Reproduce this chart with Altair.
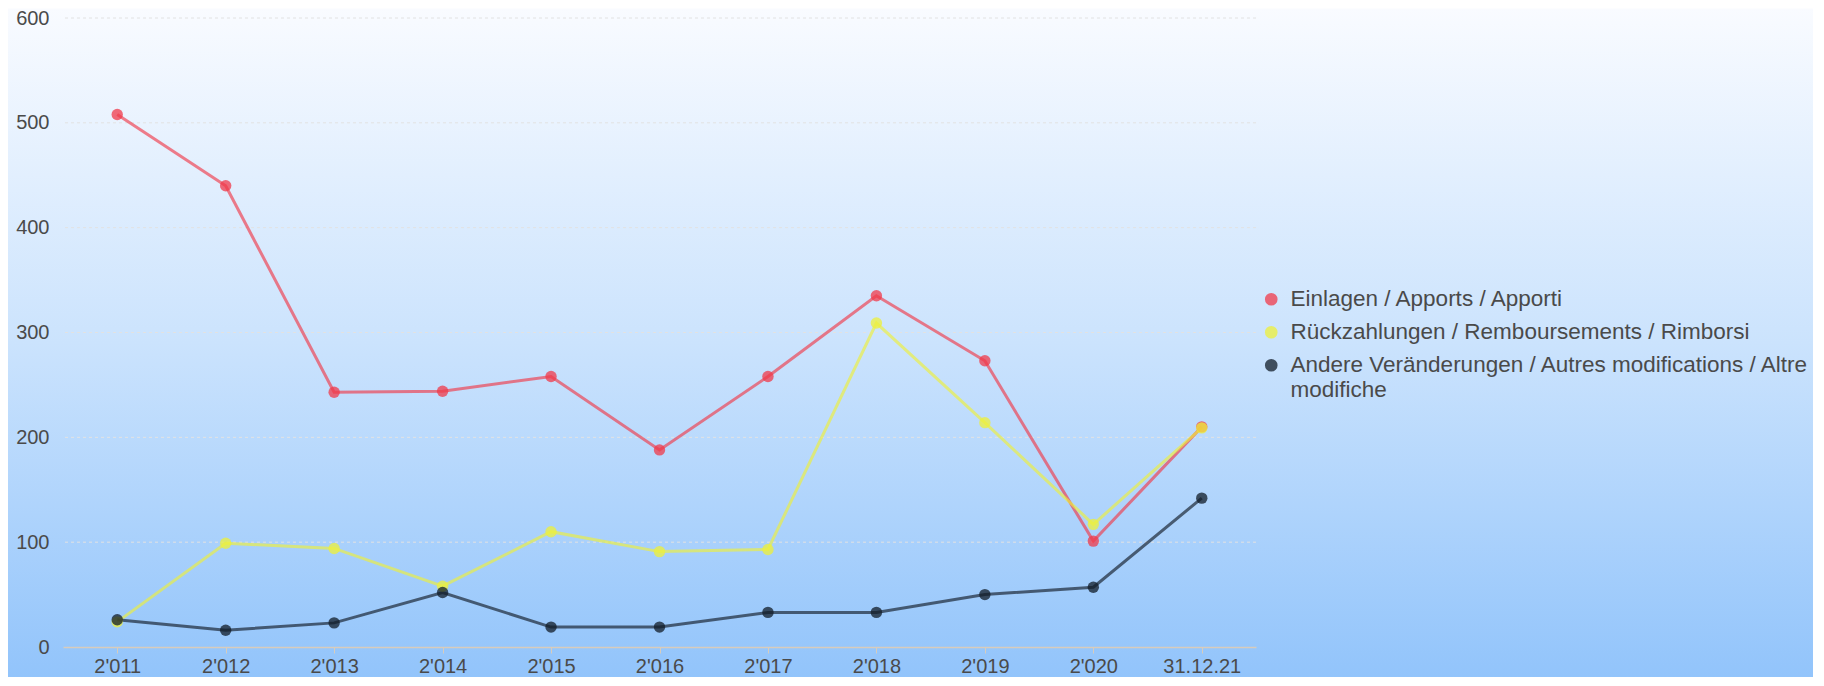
import altair as alt
import pandas as pd

categories = ["2'011", "2'012", "2'013", "2'014", "2'015", "2'016",
              "2'017", "2'018", "2'019", "2'020", "31.12.21"]
einlagen = [508, 440, 243, 244, 258, 188, 258, 335, 273, 101, 210]
rueckzahlungen = [24, 99, 94, 58, 110, 91, 93, 309, 214, 117, 209]
andere = [26, 16, 23, 52, 19, 19, 33, 33, 50, 57, 142]

series_names = [
    "Einlagen / Apports / Apporti",
    "Rückzahlungen / Remboursements / Rimborsi",
    "Andere Veränderungen / Autres modifications / Altre modifiche",
]
series_colors = ["#f03a4a", "#eef03a", "#121c28"]
y_ticks = [0, 100, 200, 300, 400, 500, 600]
grid_values = [100, 200, 300, 400, 500, 600]

rows = []
for name, vals in zip(series_names, [einlagen, rueckzahlungen, andere]):
    for c, v in zip(categories, vals):
        rows.append({"Jahr": c, "Wert": v, "Serie": name})
df = pd.DataFrame(rows)

W, H = 1193, 629
FONT = "Liberation Sans"

x_enc = alt.X("Jahr:N", sort=categories, title=None,
              axis=alt.Axis(labelAngle=0, labelFontSize=20, labelColor="#4a4a4a",
                            labelFont=FONT, tickSize=6, tickColor="#d8ccbc",
                            domainColor="#d8ccbc", domainWidth=1.5, labelPadding=3,
                            grid=False, zindex=1))
y_enc = alt.Y("Wert:Q", title=None,
              scale=alt.Scale(domain=[0, 600], nice=False),
              axis=alt.Axis(values=y_ticks, labelFontSize=20, labelColor="#4a4a4a",
                            labelFont=FONT, ticks=False, domain=False, grid=False,
                            labelPadding=14, zindex=1))

long_name = series_names[2]
split_at = long_name.rfind(" ")
label_expr = ("datum.label == '" + long_name + "' ? ['" + long_name[:split_at] +
              "', '" + long_name[split_at + 1:] + "'] : datum.label")

legend = alt.Legend(title=None, orient="none", legendX=1197, legendY=270,
                    symbolType="circle", symbolSize=160, symbolOpacity=0.75,
                    symbolStrokeWidth=0, labelFontSize=22.5, labelFont=FONT,
                    labelColor="#4a4a4a", rowPadding=10, labelOffset=8,
                    labelExpr=label_expr, labelLimit=900, padding=0)

color_scale = alt.Scale(domain=series_names, range=series_colors)
color_enc = alt.Color("Serie:N", scale=color_scale, legend=legend)

bg = alt.Chart(alt.Data(values=[{"k": 0}])).mark_rect(
    fill={"gradient": "linear", "x1": 0, "y1": 0, "x2": 0, "y2": 1,
          "stops": [{"offset": 0, "color": "#f9fbff"},
                    {"offset": 0.5, "color": "#cbe3fd"},
                    {"offset": 1, "color": "#92c4fb"}]}
).encode(x=alt.value(-55), x2=alt.value(1750), y=alt.value(-9.5), y2=alt.value(659))

grid = alt.Chart(pd.DataFrame({"g": grid_values})).mark_rule(
    color="#e2e2e2", strokeDash=[3, 3], strokeWidth=1
).encode(y=alt.Y("g:Q", scale=alt.Scale(domain=[0, 600], nice=False)))

base = alt.Chart(df)
lines = base.mark_line(strokeWidth=3, opacity=0.65).encode(
    x=x_enc, y=y_enc, color=color_enc, detail="Serie:N",
)
points = base.mark_circle(size=130, opacity=0.75).encode(
    x=x_enc, y=y_enc, color=color_enc,
)

chart = alt.layer(bg, grid, lines, points).properties(
    width=W, height=H, padding=0
).configure_view(stroke=None)

chart.save("out.html", embed_options={"renderer": "svg", "actions": False})
